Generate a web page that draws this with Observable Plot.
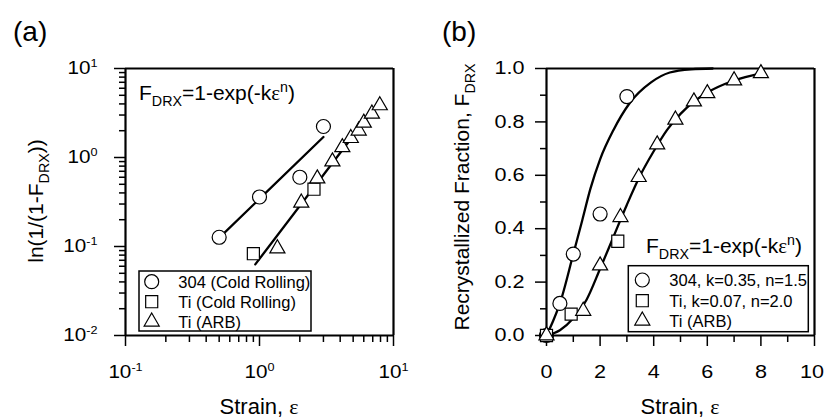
<!DOCTYPE html>
<html><head><meta charset="utf-8">
<script src="https://cdn.jsdelivr.net/npm/d3@7"></script>
<script src="https://cdn.jsdelivr.net/npm/@observablehq/plot@0.6"></script>
<style>
body{margin:0;background:#fff;}
#wrap{width:825px;height:420px;display:flex;}
</style></head><body><div id="wrap"></div>
<script>
// ---------- panel (a) data: ln(1/(1-F)) vs strain (log-log) ----------
const strainA304 = [0.5, 1.0, 2.0, 3.0];
const lnA304 = [0.127, 0.36, 0.60, 2.23];
const strainATiCR = [0.9, 2.55];
const lnATiCR = [0.083, 0.44];
const strainATiARB = [1.36, 2.05, 2.7, 3.5, 4.15, 4.8, 5.5, 6.0, 6.9, 7.9];
const lnATiARB = [0.095, 0.31, 0.58, 0.9, 1.3, 1.65, 2.0, 2.45, 3.1, 3.85];
const fitA304X = [0.5, 3.0];
const fitA304Y = [0.125, 1.7];
const fitATiX = [0.93, 7.2];
const fitATiY = [0.063, 3.6];

// ---------- panel (b) data: recrystallized fraction vs strain ----------
const strainB304 = [0, 0.5, 1.0, 2.0, 3.0];
const fracB304 = [0, 0.12, 0.305, 0.455, 0.895];
const strainBTiCR = [0, 0.92, 2.66];
const fracBTiCR = [0, 0.08, 0.353];
const strainBTiARB = [0, 1.37, 2.0, 2.76, 3.44, 4.13, 4.81, 5.5, 6.0, 7.0, 8.0];
const fracBTiARB = [0, 0.092, 0.262, 0.443, 0.593, 0.715, 0.808, 0.876, 0.907, 0.955, 0.982];
const curveB304X = [0, 0.25, 0.5, 1.0, 1.33, 1.64, 2.0, 2.5, 3.1, 3.9, 4.6, 5.4, 6.2];
const curveB304Y = [0, 0.055, 0.12, 0.305, 0.43, 0.55, 0.66, 0.77, 0.87, 0.948, 0.985, 0.997, 1.0];
const curveBTiX = [0, 0.5, 1.0, 1.5, 2.0, 2.5, 3.0, 3.5, 4.0, 4.5, 5.0, 5.5, 6.0, 7.0, 8.0];
const curveBTiY = [0, 0.02, 0.065, 0.135, 0.25, 0.37, 0.49, 0.60, 0.69, 0.77, 0.83, 0.876, 0.91, 0.955, 0.982];

// ---------- ticks ----------
const xDomainA = [0.1, 10];
const yDomainA = [0.01, 10];
const xMajorA = [0.1, 1, 10];
const xLabelsA = ["10^-1", "10^0", "10^1"];
const xMinorA = [0.2,0.3,0.4,0.5,0.6,0.7,0.8,0.9,2,3,4,5,6,7,8,9];
const yMajorA = [0.01, 0.1, 1, 10];
const yLabelsA = ["10^-2", "10^-1", "10^0", "10^1"];
const yMinorA = [0.02,0.03,0.04,0.05,0.06,0.07,0.08,0.09,0.2,0.3,0.4,0.5,0.6,0.7,0.8,0.9,2,3,4,5,6,7,8,9];
const xDomainB = [0, 10];
const yDomainB = [0, 1];
const xMajorB = [0, 2, 4, 6, 8, 10];
const xMinorB = [1, 3, 5, 7, 9];
const yMajorB = [0, 0.2, 0.4, 0.6, 0.8, 1.0];
const yMinorB = [0.1, 0.3, 0.5, 0.7, 0.9];

// ---------- legends / text ----------
const legendA = ["304 (Cold Rolling)", "Ti (Cold Rolling)", "Ti (ARB)"];
const legendB = ["304, k=0.35, n=1.5", "Ti, k=0.07, n=2.0", "Ti (ARB)"];

const FONT = '"Liberation Sans", Arial, Helvetica, sans-serif';
const NS = "http://www.w3.org/2000/svg";
const pts = (xs, ys) => xs.map((x, i) => ({x, y: ys[i]}));
const dots = (xs, ys, symbol, r) => Plot.dot(pts(xs, ys), {x: "x", y: "y", symbol, r, fill: "white", stroke: "black", strokeWidth: 1.2});
const line = (xs, ys, curve) => Plot.line(pts(xs, ys), {x: "x", y: "y", stroke: "black", strokeWidth: 2.3, curve: curve || "linear"});
const R = {circle: 7, square: 6.8, triangle: 5.6};
// box drawn as four rules at the scale domain edges
const box = (xd, yd) => [
  Plot.ruleX(xd, {stroke: "black", strokeWidth: 2.2}),
  Plot.ruleY(yd, {stroke: "black", strokeWidth: 2.2})
];

function postTicks(svg, size, stretch) {
  svg.querySelectorAll('g[aria-label$="tick label"] text').forEach(t => {
    const s = t.textContent;
    t.setAttribute("font-size", size);
    if (s === "10") t.setAttribute("dx", -2);
    if (s.includes("^")) {
      const [b, e] = s.split("^");
      t.textContent = b;
      const ts = document.createElementNS(NS, "tspan");
      ts.setAttribute("font-size", 11);
      ts.setAttribute("dy", -7);
      ts.textContent = e;
      t.appendChild(ts);
    }
    let tr = t.getAttribute("transform");
    if (!tr) {
      const x = +(t.getAttribute("x") || 0), y = +(t.getAttribute("y") || 0);
      t.removeAttribute("x"); t.removeAttribute("y");
      tr = `translate(${x},${y})`;
    }
    t.setAttribute("transform", tr + ` scale(${stretch},1)`);
  });
}

function addText(svg, x, y, size, parts, anchor = "start", rotate = 0) {
  const t = document.createElementNS(NS, "text");
  t.setAttribute("transform", `translate(${x},${y}) rotate(${rotate})`);
  t.setAttribute("font-size", size);
  t.setAttribute("text-anchor", anchor);
  t.setAttribute("fill", "black");
  t.setAttribute("font-family", FONT);
  let shift = 0;
  for (const [s, kind] of parts) {
    const ts = document.createElementNS(NS, "tspan");
    let target = 0;
    if (kind === "sub") { ts.setAttribute("font-size", size * 0.68); target = 6; }
    else if (kind === "sup") { ts.setAttribute("font-size", size * 0.68); target = -8; }
    else if (kind === "eps") { ts.setAttribute("font-family", '"Liberation Serif", "Times New Roman", serif'); }
    if (target !== shift) { ts.setAttribute("dy", target - shift); shift = target; }
    ts.textContent = s;
    t.appendChild(ts);
  }
  svg.appendChild(t);
}

function addLegend(svg, bx, symX, rows, textX, labels) {
  const g = d3.select(svg).append("g");
  g.append("rect").attr("x", bx[0]).attr("y", bx[1]).attr("width", bx[2] - bx[0]).attr("height", bx[3] - bx[1])
    .attr("fill", "white").attr("stroke", "black").attr("stroke-width", 1.5);
  const syms = [[d3.symbolCircle, R.circle], [d3.symbolSquare, R.square], [d3.symbolTriangle, R.triangle]];
  syms.forEach(([s, r], i) => {
    g.append("path").attr("d", d3.symbol(s, Math.PI * r * r)()).attr("transform", `translate(${symX},${rows[i]})`)
      .attr("fill", "white").attr("stroke", "black").attr("stroke-width", 1.2);
    g.append("text").attr("x", textX).attr("y", rows[i] + 6).attr("font-size", 16.5).attr("font-family", FONT)
      .attr("text-anchor", "start").attr("fill", "black").text(labels[i]);
  });
}

const common = {height: 420, marginTop: 68, marginBottom: 85, style: {fontFamily: FONT, fontSize: "18px", background: "white", color: "black"}};

// ---------- panel (a) ----------
const plotA = Plot.plot({
  ...common, width: 412, marginLeft: 125, marginRight: 19,
  x: {type: "log", domain: xDomainA},
  y: {type: "log", domain: yDomainA},
  marks: [
    Plot.axisX({ticks: xMajorA, tickFormat: d => xLabelsA[xMajorA.indexOf(d)], tickSize: 11, tickPadding: 19, strokeWidth: 1.5, label: null}),
    Plot.axisX({ticks: xMinorA, tickFormat: () => "", tickSize: 7, strokeWidth: 1.5, label: null}),
    Plot.axisY({ticks: yMajorA, tickFormat: d => yLabelsA[yMajorA.indexOf(d)], tickSize: 11, tickPadding: 17, strokeWidth: 1.5, label: null}),
    Plot.axisY({ticks: yMinorA, tickFormat: () => "", tickSize: 6, strokeWidth: 1.5, label: null}),
    ...box(xDomainA, yDomainA),
    line(fitA304X, fitA304Y),
    line(fitATiX, fitATiY),
    dots(strainA304, lnA304, "circle", R.circle),
    dots(strainATiCR, lnATiCR, "square", R.square),
    dots(strainATiARB, lnATiARB, "triangle", R.triangle)
  ]
});
postTicks(plotA, 18, 1.15);
addText(plotA, 13, 41, 28, [["(a)", "n"]]);
addText(plotA, 259, 414, 22, [["Strain, ", "n"], ["ε", "eps"]], "middle");
addText(plotA, 43, 201, 21, [["ln(1/(1-F", "n"], ["DRX", "sub"], ["))", "n"]], "middle", -90);
addText(plotA, 139, 100, 21, [["F", "n"], ["DRX", "sub"], ["=1-exp(-k", "n"], ["ε", "eps"], ["n", "sup"], [")", "n"]]);
addLegend(plotA, [139, 271, 311, 331], 151.7, [281.7, 301.7, 321.7], 178.3, legendA);

// ---------- panel (b) ----------
const plotB = Plot.plot({
  ...common, width: 413, marginLeft: 134, marginRight: 11,
  x: {domain: xDomainB},
  y: {domain: yDomainB},
  marks: [
    Plot.axisX({ticks: xMajorB, tickFormat: d => String(d), tickSize: 11, tickPadding: 19, strokeWidth: 1.5, label: null}),
    Plot.axisX({ticks: xMinorB, tickFormat: () => "", tickSize: 7, strokeWidth: 1.5, label: null}),
    Plot.axisY({ticks: yMajorB, tickFormat: d => d.toFixed(1), tickSize: 11, tickPadding: 11, strokeWidth: 1.5, label: null}),
    Plot.axisY({ticks: yMinorB, tickFormat: () => "", tickSize: 6, strokeWidth: 1.5, label: null}),
    ...box(xDomainB, yDomainB),
    line(curveB304X, curveB304Y, "monotone-x"),
    line(curveBTiX, curveBTiY, "monotone-x"),
    dots(strainB304, fracB304, "circle", R.circle),
    dots(strainBTiCR, fracBTiCR, "square", R.square),
    dots(strainBTiARB, fracBTiARB, "triangle", R.triangle)
  ]
});
postTicks(plotB, 18, 1.2);
addText(plotB, 30, 41, 28, [["(b)", "n"]]);
addText(plotB, 268, 414, 22, [["Strain, ", "n"], ["ε", "eps"]], "middle");
addText(plotB, 57, 197, 21, [["Recrystallized Fraction, F", "n"], ["DRX", "sub"]], "middle", -90);
addText(plotB, 234, 253, 21, [["F", "n"], ["DRX", "sub"], ["=1-exp(-k", "n"], ["ε", "eps"], ["n", "sup"], [")", "n"]]);
addLegend(plotB, [216.3, 265.7, 396.3, 331.7], 230.3, [280, 300.7, 320.7], 257.3, legendB);

document.getElementById("wrap").append(plotA, plotB);
</script></body></html>
